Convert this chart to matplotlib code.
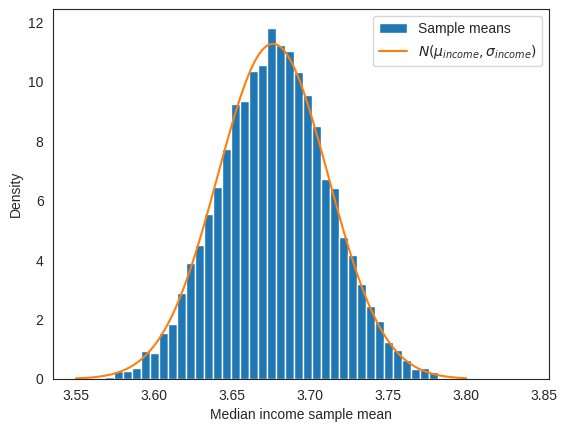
import numpy as np
import matplotlib
matplotlib.use('Agg')
import matplotlib.pyplot as plt
import seaborn as sns

# histogram of sample means (density)
bin_start = 3.5572
bin_width = 0.00577
densities = [0.04, 0.0, 0.08, 0.27, 0.27, 0.37, 0.94, 0.89, 1.56, 1.86,
             2.89, 3.90, 4.50, 5.55, 6.45, 7.73, 9.23, 9.34, 10.36, 10.55,
             11.80, 11.24, 11.03, 10.33, 9.55, 8.50, 6.72, 6.41, 4.77, 4.17,
             3.19, 2.45, 1.95, 1.23, 0.97, 0.64, 0.34, 0.37, 0.23, 0.04,
             0.04]

# normal approximation
mu_income = 3.6762
sigma_income = 0.0354
x_min, x_max = 3.55, 3.80

sns.set_style('white')
plt.rcParams['font.family'] = ['Liberation Sans', 'DejaVu Sans']

fig = plt.figure(figsize=(5.68, 4.28), dpi=100)
ax = fig.add_axes([0.0938, 0.1145, 0.8727, 0.8638])

edges = bin_start + bin_width * np.arange(len(densities))
bars = ax.bar(edges, densities, width=bin_width, align='edge',
              color='tab:blue', edgecolor='white', linewidth=1.0,
              label='Sample means')

xs = np.linspace(x_min, x_max, 300)
pdf = np.exp(-0.5 * ((xs - mu_income) / sigma_income) ** 2) / (sigma_income * np.sqrt(2 * np.pi))
line, = ax.plot(xs, pdf, color='tab:orange', linewidth=1.5,
                label=r'$N(\mu_{income}, \sigma_{income})$')

ax.set_xlim(3.5355, 3.853)
ax.set_ylim(0, 12.43)
ax.set_xticks([3.55, 3.60, 3.65, 3.70, 3.75, 3.80, 3.85])
ax.set_yticks([0, 2, 4, 6, 8, 10, 12])
ax.set_xlabel('Median income sample mean')
ax.set_ylabel('Density')
ax.legend(handles=[bars, line], loc='upper right')

fig.savefig('out.png', dpi=100)
